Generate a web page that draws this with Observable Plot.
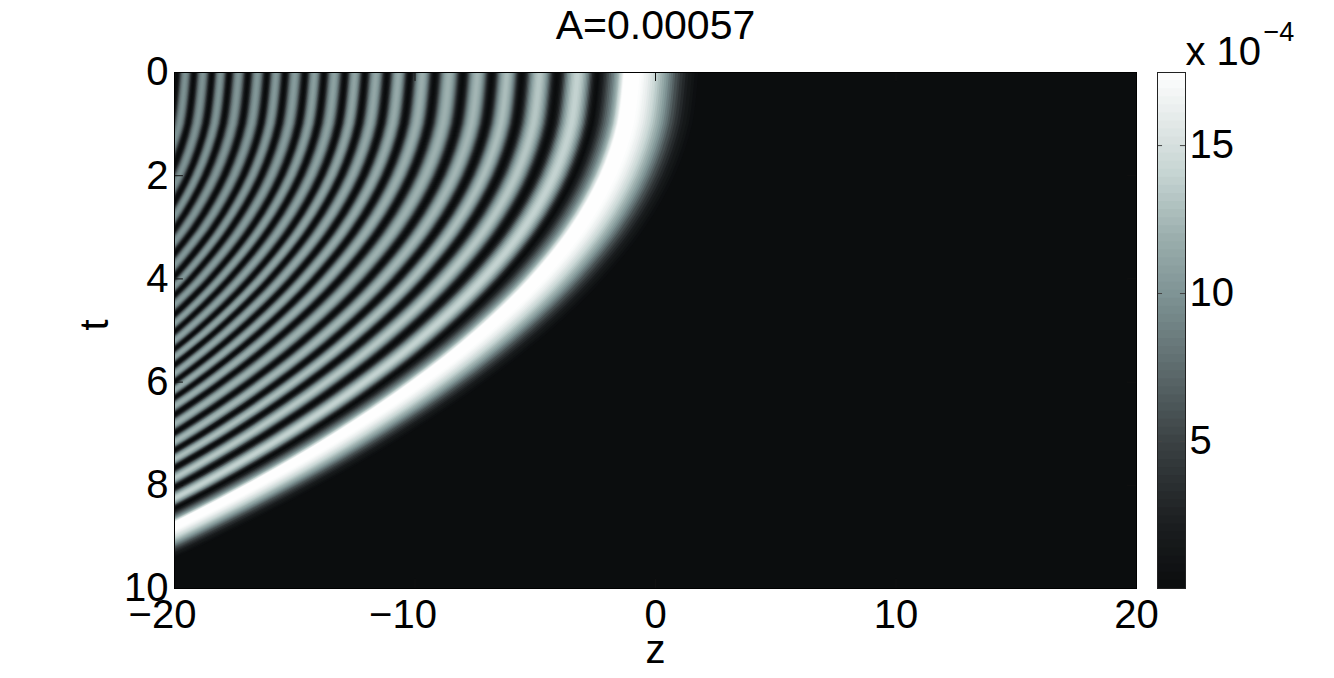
<!DOCTYPE html>
<html><head><meta charset="utf-8">
<script src="https://cdn.jsdelivr.net/npm/d3@7"></script>
<script src="https://cdn.jsdelivr.net/npm/@observablehq/plot@0.6"></script>
<style>html,body{margin:0;background:#fff;overflow:hidden}#c{position:relative;width:1334px;height:678px}#c svg{position:absolute;left:0;top:0;background:transparent}</style>
</head><body><div id="c"></div>
<script>
// dark-fringe (intensity minimum) positions z, listed right to left, one list per time t
const tRows = [0,1,2,3,4,5,6,7,8,9,10];
const nullRows = [
 [-2.37,-4.07,-5.53,-6.78,-7.98,-9.15,-10.19,-11.14,-12.06,-12.89,-13.76,-14.55,-15.38,-16.13,-16.92,-17.71,-18.42,-19.17,-19.88,-20.66],
 [-2.62,-4.32,-5.78,-7.03,-8.23,-9.40,-10.44,-11.39,-12.31,-13.14,-14.01,-14.80,-15.63,-16.38,-17.17,-17.96,-18.67,-19.42,-20.13,-20.91],
 [-3.35,-5.05,-6.51,-7.76,-8.96,-10.13,-11.17,-12.12,-13.04,-13.87,-14.74,-15.53,-16.36,-17.11,-17.90,-18.69,-19.40,-20.15,-20.86],
 [-4.57,-6.27,-7.73,-8.98,-10.18,-11.35,-12.39,-13.34,-14.26,-15.09,-15.96,-16.75,-17.58,-18.33,-19.12,-19.91,-20.62,-21.37],
 [-6.29,-7.99,-9.45,-10.70,-11.90,-13.07,-14.11,-15.06,-15.98,-16.81,-17.68,-18.47,-19.30,-20.05,-20.84,-21.63,-22.34],
 [-8.50,-10.20,-11.66,-12.91,-14.11,-15.28,-16.32,-17.27,-18.19,-19.02,-19.89,-20.68,-21.51,-22.26],
 [-11.20,-12.90,-14.36,-15.61,-16.81,-17.98,-19.02,-19.97,-20.89,-21.72,-22.59,-23.38],
 [-14.39,-16.09,-17.55,-18.80,-20.00,-21.17,-22.21,-23.16,-24.08],
 [-18.07,-19.77,-21.23,-22.48,-23.68,-24.85],
 [-22.27,-23.97,-25.43],
 [-26.87]
];
// main lobe: crest and right-hand fade-out edge at each t
const mainPeak = [-1.04,-1.29,-2.02,-3.24,-4.96,-7.17,-9.87,-13.06,-16.74,-20.94,-25.54];
const mainEdge = [1.86,1.61,0.88,-0.34,-2.06,-4.27,-6.97,-10.16,-13.84,-18.04,-22.64];
const mainValue = 17.4;
// crest value of each side fringe (x 10^-4), right to left
const fringeValue = [13.9,13.2,12.7,12.3,12.0,11.8,11.5,11.3,11.1,10.9,10.7,10.5,10.3,10.2,10.1,10.0,9.9,9.8,9.7];
// cross-fringe brightness profile: distance from crest (1 = null), share of crest value
const profileU = [1,.93,.86,.79,.72,.65,.58,.51,.44,.37,.3,.23,.16,.09];
const profileV = [.01,.04,.11,.2,.32,.45,.57,.68,.77,.85,.91,.95,.98,1];
// main lobe brightness profile: share of crest value, distance on the right and on the left of the crest
const mainV  = [.02,.05,.08,.12,.17,.22,.28,.33,.39,.45,.5,.56,.61,.66,.7,.74,.78,.81,.84,.87,.9,.93,.95,.97,.98,.99,1];
const mainUR = [.98,.93,.89,.84,.80,.76,.72,.69,.65,.62,.59,.56,.53,.5,.47,.44,.41,.38,.36,.33,.3,.27,.24,.21,.19,.17,.14];
const mainUL = [.98,.95,.92,.88,.83,.79,.74,.70,.65,.59,.54,.49,.45,.41,.38,.35,.33,.31,.29,.27,.25,.23,.22,.21,.2,.19,.18];
const zTicksNeg = [-20,-10];
const zTicksPos = [0,10,20];
const zTicks = [...zTicksNeg,...zTicksPos];
const tTicks = [0,2,4,6,8,10];
const barTicks = [5,10,15];
const barMin = 0.03, barMax = 17.47;
const colorDomain = [0.03,2.2,5,7.5,10,12,14,15,17.47];
const colorRange = ["#0b0d0e","#1b1e20","#3b4244","#5e6c6e","#7f9495","#9db0af","#c5d4d2","#d6dfde","#ffffff"];

const color = {type:"linear",domain:colorDomain,range:colorRange,interpolate:"rgb"};
const FONT = "'Liberation Sans',Arial,sans-serif";
const FS = 40;

const rows = [];
fringeValue.forEach((peak,i)=>{
  const n = nullRows.filter(r=>r[i+1]!==undefined).length;
  profileU.forEach((u,k)=>{
    for (let j=0;j<n;j++) {
      const R=nullRows[j][i],L=nullRows[j][i+1],P=(L+R)/2;
      rows.push({key:"f"+i+"-"+k,t:tRows[j],a:P-u*(P-L),b:P+u*(R-P),v:peak*profileV[k]});
    }
  });
});
mainV.forEach((share,k)=>{
  tRows.forEach((t,j)=>{
    const L=nullRows[j][0],P=mainPeak[j],R=mainEdge[j];
    rows.push({key:"m-"+k,t,a:P-mainUL[k]*(P-L),b:P+mainUR[k]*(R-P),v:mainValue*share});
  });
});

const minus = d=>String(d).replace("-","\u2212");
const tickLen = 0.175, tickLenX = 0.37;

const main = Plot.plot({
  width:1334,height:678,marginTop:72,marginBottom:90,marginLeft:174,marginRight:198,
  style:{fontFamily:FONT,background:"transparent"},
  x:{domain:[-20,20]},y:{domain:[0,10],reverse:true},color,
  marks:[
    Plot.rect([0],{x1:-20,x2:20,y1:0,y2:10,fill:d=>0.03}),
    Plot.areaX(rows,{x1:"a",x2:"b",y:"t",z:"key",fill:"v",curve:"catmull-rom",clip:true}),
    Plot.ruleX(zTicks,{y1:0,y2:tickLen,stroke:"#111"}),
    Plot.ruleX(zTicks,{y1:10-tickLen,y2:10,stroke:"#111"}),
    Plot.ruleY(tTicks,{x1:-20,x2:-20+tickLenX,stroke:"#111"}),
    Plot.ruleY(tTicks,{x1:20-tickLenX,x2:20,stroke:"#111"}),
    Plot.frame({stroke:"#000"}),
    Plot.axisX(zTicksPos,{anchor:"bottom",tickSize:0,tickPadding:11,fontSize:FS,label:null,tickFormat:minus,fill:"#000"}),
    Plot.axisX(zTicksNeg,{anchor:"bottom",tickSize:0,tickPadding:11,fontSize:FS,label:null,tickFormat:minus,fill:"#000",dx:-12}),
    Plot.axisY(tTicks,{anchor:"left",tickSize:0,tickPadding:6,fontSize:FS,label:null,tickFormat:d=>String(d),fill:"#000"}),
    Plot.text(["A=0.00057"],{frameAnchor:"top",dy:-63,fontSize:41,fill:"#000"}),
    Plot.text(["z"],{frameAnchor:"bottom",dy:74,fontSize:FS,fill:"#000"}),
    Plot.text(["t"],{frameAnchor:"left",dx:-79,rotate:-90,fontSize:FS,fill:"#000"})
  ]
});
document.getElementById("c").append(main);

const barLevels = d3.range(64).map(i=>barMin+(barMax-barMin)*i/64);
const bar = Plot.plot({
  width:1334,height:678,marginTop:72,marginBottom:90,marginLeft:1157,marginRight:149,
  style:{fontFamily:FONT,background:"transparent"},
  x:{domain:[0,1],axis:null},y:{domain:[barMin,barMax]},color,
  marks:[
    Plot.rect(barLevels,{x1:0,x2:1,y1:d=>d,y2:barMax,fill:d=>d+(barMax-barMin)/128,inset:0}),
    Plot.ruleY(barTicks,{x1:0,x2:.18,stroke:"#444"}),
    Plot.ruleY(barTicks,{x1:.82,x2:1,stroke:"#444"}),
    Plot.frame({stroke:"#222"}),
    Plot.axisY(barTicks,{anchor:"right",tickSize:0,tickPadding:4,fontSize:FS,label:null,fill:"#000"}),
    Plot.text(["x 10"],{x:1,y:barMax,textAnchor:"start",lineAnchor:"bottom",dy:-8,fontSize:FS,fill:"#000"}),
    Plot.text(["\u22124"],{x:1,y:barMax,textAnchor:"start",lineAnchor:"bottom",dx:78,dy:-32,fontSize:27,fill:"#000"})
  ]
});
document.getElementById("c").append(bar);
</script></body></html>
